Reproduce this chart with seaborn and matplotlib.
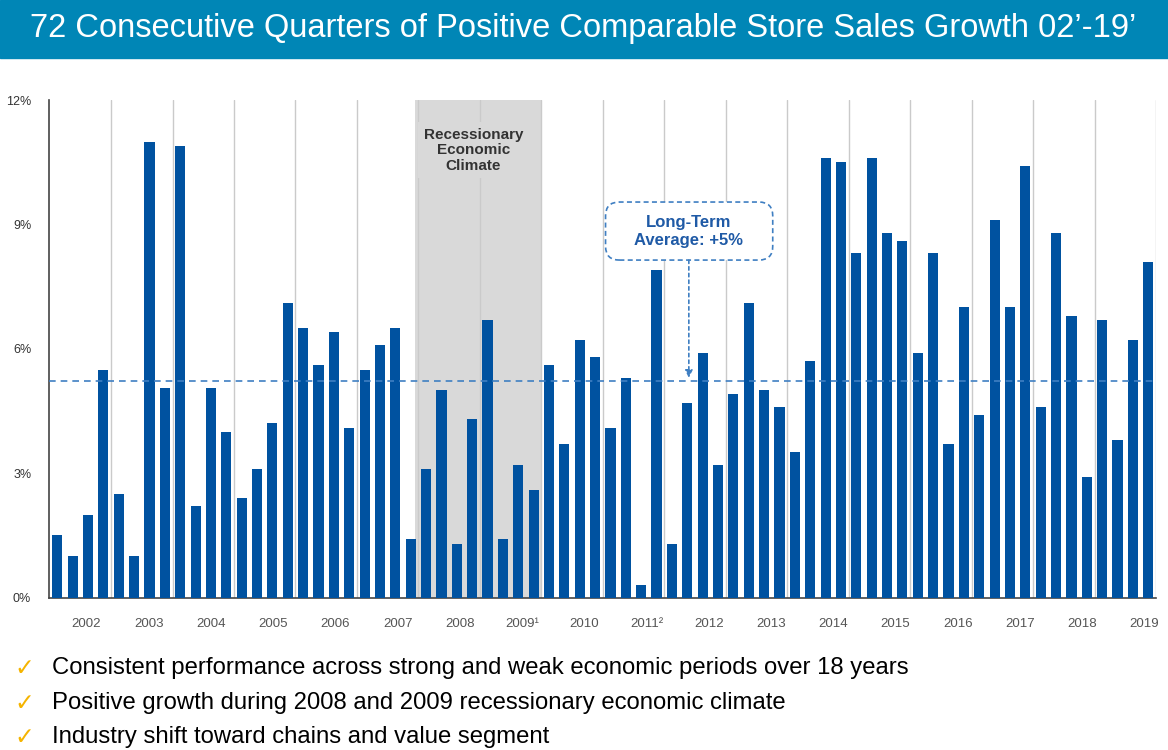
import matplotlib.pyplot as plt
import numpy as np
import pandas as pd
import seaborn as sns
from matplotlib.patches import Rectangle, FancyBboxPatch

BAR_BLUE = "#0052A0"
TITLE_BLUE = "#0086B6"
AVG_BLUE = "#3F7FC2"
TEXT_BLUE = "#1F5AA6"
SHADE = "#D9D9D9"
GRID = "#CACACA"
GOLD = "#F5B400"

title = "72 Consecutive Quarters of Positive Comparable Store Sales Growth 02\u2019-19\u2019"

years = ["2002", "2003", "2004", "2005", "2006", "2007", "2008", "2009\u00b9",
         "2010", "2011\u00b2", "2012", "2013", "2014", "2015", "2016", "2017",
         "2018", "2019"]

# comparable store sales growth (%), one value per quarter, 4 per year
growth = [1.5, 1.0, 2.0, 5.5,
          2.5, 1.0, 11.0, 5.05,
          10.9, 2.2, 5.05, 4.0,
          2.4, 3.1, 4.2, 7.1,
          6.5, 5.6, 6.4, 4.1,
          5.5, 6.1, 6.5, 1.4,
          3.1, 5.0, 1.3, 4.3,
          6.7, 1.4, 3.2, 2.6,
          5.6, 3.7, 6.2, 5.8,
          4.1, 5.3, 0.3, 7.9,
          1.3, 4.7, 5.9, 3.2,
          4.9, 7.1, 5.0, 4.6,
          3.5, 5.7, 10.6, 10.5,
          8.3, 10.6, 8.8, 8.6,
          5.9, 8.3, 3.7, 7.0,
          4.4, 9.1, 7.0, 10.4,
          4.6, 8.8, 6.8, 2.9,
          6.7, 3.8, 6.2, 8.1]

long_term_avg = 5.22
y_ticks = [0, 3, 6, 9, 12]
bullets = ["Consistent performance across strong and weak economic periods over 18 years",
           "Positive growth during 2008 and 2009 recessionary economic climate",
           "Industry shift toward chains and value segment"]

quarters = [f"{y[:4]} Q{q}" for y in years for q in range(1, 5)]
df = pd.DataFrame({"quarter": quarters, "growth": growth})

sns.set_theme(style="white")
plt.rcParams["font.family"] = ["Liberation Sans", "DejaVu Sans"]

fig = plt.figure(figsize=(11.68, 7.5), dpi=100)
ax = fig.add_axes([0.0422, 0.2033, 0.9475, 0.6633])

sns.barplot(data=df, x="quarter", y="growth", order=quarters, color=BAR_BLUE,
            saturation=1, width=0.66, linewidth=0, ax=ax, zorder=3)

# recession band + year separators
ax.axvspan(23.3, 31.5, color=SHADE, lw=0, zorder=0)
bounds = np.arange(3.5, len(growth), 4)
for b in bounds:
    ax.axvline(b, color=GRID, lw=1, zorder=1)

ax.axhline(long_term_avg, color=AVG_BLUE, lw=1.2, ls=(0, (4, 3)), zorder=4)

ax.text(27.08, 10.79, "Recessionary\nEconomic\nClimate", ha="center", va="center",
        fontsize=11, fontweight="bold", color="#333333", linespacing=1.15,
        bbox=dict(facecolor=SHADE, edgecolor="none", pad=4), zorder=2)

box = FancyBboxPatch((35.68, 8.14), 10.88, 1.40,
                     boxstyle="round,pad=0,rounding_size=0.9", mutation_aspect=0.37,
                     facecolor="white", edgecolor=AVG_BLUE, lw=1.2, ls=(0, (3, 2)), zorder=5)
ax.add_patch(box)
ax.text(41.1, 8.84, "Long-Term\nAverage: +5%", ha="center", va="center", fontsize=12,
        fontweight="bold", color=TEXT_BLUE, linespacing=1.25, zorder=6)
ax.annotate("", xy=(41.1, 5.3), xytext=(41.1, 8.14),
            arrowprops=dict(arrowstyle="-|>", color=AVG_BLUE, lw=1.2, ls=(0, (2, 2)),
                            shrinkA=0, shrinkB=0, mutation_scale=11), zorder=6)

ax.set_xlim(-0.52, 71.5)
ax.set_ylim(0, 12)
ax.set_yticks(y_ticks)
ax.set_yticklabels([f"{v}%" for v in y_ticks], fontsize=9, color="#333333")
ax.tick_params(axis="y", length=0, pad=13)

label_pos = 1.9 + np.arange(len(years)) * 4.05
ax.set_xticks(label_pos)
ax.set_xticklabels(years, fontsize=9.5, color="#555555")
ax.set_xticks(bounds, minor=True)
ax.tick_params(axis="x", which="major", length=0, pad=15)
ax.tick_params(axis="x", which="minor", length=5, width=1, direction="inout", color="#444444")
ax.set_xlabel("")
ax.set_ylabel("")

for s in ["top", "right"]:
    ax.spines[s].set_visible(False)
for s in ["left", "bottom"]:
    ax.spines[s].set_color("#444444")
    ax.spines[s].set_linewidth(1.2)

# header bar
fig.add_artist(Rectangle((0, 1 - 58 / 750), 1, 58 / 750, transform=fig.transFigure,
                         color=TITLE_BLUE, zorder=0))
fig.text(30 / 1168, 1 - 28 / 750, title, color="white", fontsize=23.5, va="center", ha="left")

for i, line in enumerate(bullets):
    y = 1 - (668 + i * 34.5) / 750
    fig.text(14 / 1168, y, "\u2713", color=GOLD, fontsize=17, va="center",
             fontweight="bold", family=["DejaVu Sans"])
    fig.text(52 / 1168, y, line, color="black", fontsize=17.2, va="center")

plt.savefig("out.png", dpi=100)
